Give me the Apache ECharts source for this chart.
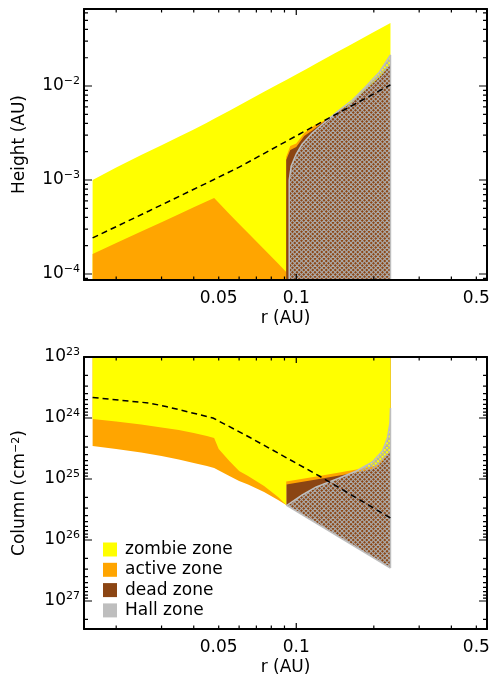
<!DOCTYPE html>
<html>
<head>
<meta charset="utf-8">
<title>Zones</title>
<script src="https://cdn.jsdelivr.net/npm/echarts@6/dist/echarts.min.js"></script>
<style>
  html, body { margin: 0; padding: 0; background: #fff; }
  #chart { width: 489px; height: 686px; }
</style>
</head>
<body>
<div id="chart"></div>
<script>
// axis ranges
const rMin = 0.015, rMax = 0.55;
const hMin = 8.63e-5, hMax = 0.066;
const nMin = 1e23, nMax = 2.88e27;

// tick values
const xMajorTicks = [0.1];
const xLabelValues = [0.05, 0.1, 0.5];
const xMinorTicks = [0.02, 0.03, 0.04, 0.05, 0.06, 0.07, 0.08, 0.09, 0.2, 0.3, 0.4, 0.5];
const hMajorTicks = [1e-4, 1e-3, 1e-2];
const hMinorTicks = [9e-5, 2e-4, 3e-4, 4e-4, 5e-4, 6e-4, 7e-4, 8e-4, 9e-4,
  2e-3, 3e-3, 4e-3, 5e-3, 6e-3, 7e-3, 8e-3, 9e-3, 2e-2, 3e-2, 4e-2, 5e-2, 6e-2];
const nMajorTicks = [1e23, 1e24, 1e25, 1e26, 1e27];
const nMinorTicks = [2e23, 3e23, 4e23, 5e23, 6e23, 7e23, 8e23, 9e23,
  2e24, 3e24, 4e24, 5e24, 6e24, 7e24, 8e24, 9e24,
  2e25, 3e25, 4e25, 5e25, 6e25, 7e25, 8e25, 9e25,
  2e26, 3e26, 4e26, 5e26, 6e26, 7e26, 8e26, 9e26, 2e27];

// top panel: height (AU) vs r (AU)
const zombieTopH = [[0.0162, 1.0e-3], [0.02, 1.36e-3], [0.025, 1.85e-3], [0.03, 2.34e-3], [0.035, 2.88e-3],
  [0.04, 3.44e-3], [0.045, 4.07e-3], [0.048, 4.48e-3], [0.055, 5.47e-3], [0.065, 7.0e-3], [0.075, 8.68e-3],
  [0.085, 1.045e-2], [0.0914, 1.16e-2], [0.1, 1.33e-2], [0.11, 1.53e-2], [0.12, 1.75e-2], [0.14, 2.2e-2],
  [0.16, 2.69e-2], [0.18, 3.2e-2], [0.2, 3.75e-2], [0.2321, 4.68e-2]];
const activeTopH = [[0.0162, 1.63e-4], [0.02, 2.13e-4], [0.025, 2.83e-4], [0.03, 3.56e-4], [0.035, 4.33e-4],
  [0.04, 5.13e-4], [0.045, 5.95e-4], [0.048, 6.44e-4], [0.05, 5.73e-4], [0.055, 4.36e-4], [0.06, 3.4e-4],
  [0.065, 2.73e-4], [0.075, 1.83e-4], [0.085, 1.29e-4], [0.0914, 1.05e-4]];
const activeSliverH = [[0.0914, 1.76e-3], [0.0948, 2.3e-3], [0.1, 2.45e-3], [0.1074, 3.16e-3],
  [0.1175, 3.8e-3], [0.1308, 4.4e-3], [0.147, 5.4e-3]];
const deadTopH = [[0.0914, 1.63e-3], [0.0948, 2.09e-3], [0.1, 2.25e-3], [0.1074, 2.94e-3], [0.1175, 3.49e-3],
  [0.1308, 4.35e-3], [0.147, 5.42e-3], [0.1652, 6.76e-3], [0.1839, 8.85e-3], [0.2104, 1.25e-2], [0.2321, 1.67e-2]];
const hallTopH = [[0.0939, 8.63e-5], [0.0939, 1.0e-3], [0.0956, 1.41e-3], [0.1, 1.89e-3], [0.1055, 2.42e-3],
  [0.1154, 3.16e-3], [0.1308, 4.25e-3], [0.147, 5.56e-3], [0.1652, 7.1e-3], [0.1839, 9.52e-3],
  [0.2104, 1.41e-2], [0.2321, 2.14e-2], [0.2321, 8.63e-5]];
const dashedH = [[0.0162, 2.42e-4], [0.0268, 4.68e-4], [0.0475, 1.0e-3], [0.06, 1.37e-3], [0.1027, 3.07e-3], [0.2321, 1.03e-2]];

// bottom panel: column (cm^-2) vs r (AU)
const columnBottomN = [[0.0162, 2.88e24], [0.02, 3.22e24], [0.025, 3.68e24], [0.03, 4.2e24], [0.035, 4.79e24],
  [0.04, 5.47e24], [0.045, 6.12e24], [0.048, 6.6e24], [0.055, 8.93e24], [0.06, 1.08e25], [0.065, 1.23e25],
  [0.075, 1.63e25], [0.085, 2.21e25], [0.0914, 2.67e25], [0.2321, 2.88e26]];
const activeTopN = [[0.0162, 1.04e24], [0.02, 1.14e24], [0.025, 1.28e24], [0.03, 1.43e24], [0.035, 1.57e24],
  [0.04, 1.76e24], [0.045, 1.97e24], [0.048, 2.13e24], [0.05, 3.22e24], [0.055, 5.07e24], [0.06, 7.39e24],
  [0.065, 8.93e24], [0.075, 1.3e25], [0.085, 1.97e25], [0.0914, 2.67e25]];
const activeSliverN = [[0.0914, 1.1e25], [0.1196, 9.1e24], [0.147, 7.82e24], [0.1758, 6.86e24], [0.2048, 6.01e24], [0.2321, 3.48e24]];
const deadTopN = [[0.0914, 1.23e25], [0.1196, 1.02e25], [0.147, 8.77e24], [0.1758, 7.67e24], [0.2048, 6.6e24], [0.2321, 3.61e24]];
const hallTopN = [[0.0923, 2.67e25], [0.1055, 1.83e25], [0.1196, 1.35e25], [0.147, 9.64e24], [0.1713, 7.39e24],
  [0.1975, 5.26e24], [0.2161, 3.48e24], [0.2259, 2.13e24], [0.231, 1.21e24], [0.2321, 6.85e23], [0.2321, 2.88e26]];
const dashedN = [[0.0162, 4.62e23], [0.0268, 5.68e23], [0.0312, 6.47e23], [0.0475, 1.0e24], [0.0656, 2.05e24],
  [0.1229, 8.93e24], [0.2321, 4.36e25]];

const FONT = 'DejaVu Sans';
const YELLOW = '#ffff00', ORANGE = '#ffa500', BROWN = '#8b4513', HALL = '#bebebe', HATCH = '#adadad';
const PLOT_W = 403, PLOT_H = [271, 272];

function makeHatch() {
  const s = 9, c = document.createElement('canvas');
  c.width = c.height = s;
  const g = c.getContext('2d');
  g.strokeStyle = HATCH;
  g.lineWidth = 1.1;
  for (let k = -s; k <= s; k += 4.5) {
    g.beginPath(); g.moveTo(k, 0); g.lineTo(k + s, s); g.stroke();
    g.beginPath(); g.moveTo(k + s, 0); g.lineTo(k, s); g.stroke();
  }
  return c;
}
const hatch = makeHatch();

const powLabel = v => '{b|10}{s|' + String(Math.round(Math.log10(v))).replace('-', '\u2212') + '}';
const supRich = {
  b: { fontSize: 17, fontFamily: FONT, color: '#000', lineHeight: 20 },
  s: { fontSize: 11, fontFamily: FONT, color: '#000', lineHeight: 12, verticalAlign: 'top' }
};
const frame = { show: true, onZero: false, lineStyle: { color: '#000', width: 2 } };

function xAxes(grid) {
  const base = { type: 'log', gridIndex: grid, min: rMin, max: rMax, z: 10, splitLine: { show: false }, axisLine: frame, axisTick: { show: false } };
  return [
    Object.assign({}, base, {
      position: 'bottom',
      axisLabel: { customValues: xLabelValues, margin: 10, color: '#000', fontFamily: FONT, fontSize: 17, formatter: v => String(v) },
      name: 'r (AU)', nameLocation: 'middle', nameGap: 30,
      nameTextStyle: { color: '#000', fontFamily: FONT, fontSize: 17 }
    }),
    Object.assign({}, base, { position: 'top', axisLabel: { show: false } })
  ];
}

function yAxes(grid, min, max, major, name, inverse) {
  const base = { type: 'log', gridIndex: grid, min: min, max: max, inverse: inverse, z: 10, splitLine: { show: false }, axisLine: frame, axisTick: { show: false } };
  return [
    Object.assign({}, base, {
      position: 'left',
      axisLabel: { customValues: major, margin: 4, formatter: powLabel, rich: supRich },
      name: name, nameLocation: 'middle', nameGap: 56,
      nameTextStyle: { color: '#000', fontFamily: FONT, fontSize: 17, rich: supRich }
    }),
    Object.assign({}, base, { position: 'right', axisLabel: { show: false } })
  ];
}

// inward tick marks on all four sides as short broken-line segments; a pixel length
// is turned into a factor along the log axis, and '-' breaks the line between ticks
function tickMarks(grid, yBottom, yTop, yMajor, yMinor) {
  const fx = px => Math.pow(rMax / rMin, px / PLOT_W);
  const fy = px => Math.pow(yBottom > yTop ? yBottom / yTop : yTop / yBottom, px / PLOT_H[grid]);
  const up = yBottom < yTop ? 1 : -1; // direction of larger values on screen
  const pts = [];
  const seg = (a, b) => { pts.push(a, b, [a[0], '-']); };
  yMajor.forEach(v => { seg([rMin, v], [rMin * fx(8), v]); seg([rMax, v], [rMax / fx(8), v]); });
  yMinor.forEach(v => { seg([rMin, v], [rMin * fx(4), v]); seg([rMax, v], [rMax / fx(4), v]); });
  const xTick = (v, len) => {
    seg([v, yBottom], [v, yBottom * Math.pow(fy(len), up)]);
    seg([v, yTop], [v, yTop / Math.pow(fy(len), up)]);
  };
  xMajorTicks.forEach(v => xTick(v, 6));
  xMinorTicks.forEach(v => xTick(v, 3.5));
  return {
    type: 'line', xAxisIndex: grid * 2, yAxisIndex: grid * 2, data: pts,
    showSymbol: false, symbol: 'none', connectNulls: false, silent: true, clip: false, z: 11,
    lineStyle: { color: '#000', width: 1.2 }
  };
}

function zone(name, grid, data, color, origin) {
  return {
    type: 'line', name: name, xAxisIndex: grid * 2, yAxisIndex: grid * 2, data: data,
    showSymbol: false, symbol: 'none', silent: true,
    lineStyle: { width: 0 }, areaStyle: { color: color, opacity: 1, origin: origin || 'start' }
  };
}

function hallZone(grid, data, origin) {
  return {
    type: 'line', name: 'Hall zone', xAxisIndex: grid * 2, yAxisIndex: grid * 2, data: data,
    showSymbol: false, symbol: 'none', silent: true,
    lineStyle: { color: HALL, width: 1.5 },
    areaStyle: { color: { image: hatch, repeat: 'repeat' }, opacity: 1, origin: origin }
  };
}

function dashed(grid, data) {
  return {
    type: 'line', xAxisIndex: grid * 2, yAxisIndex: grid * 2, data: data,
    showSymbol: false, symbol: 'none', silent: true, z: 5,
    lineStyle: { color: '#000', width: 1.5, type: [6, 4] }
  };
}

const diskFloor = columnBottomN.slice(13);

const chart = echarts.init(document.getElementById('chart'));
chart.setOption({
  animation: false,
  backgroundColor: '#fff',
  grid: [
    { left: 84, top: 9, width: PLOT_W, height: PLOT_H[0], containLabel: false, outerBoundsMode: 'none' },
    { left: 84, top: 357, width: PLOT_W, height: PLOT_H[1], containLabel: false, outerBoundsMode: 'none' }
  ],
  xAxis: xAxes(0).concat(xAxes(1)),
  yAxis: yAxes(0, hMin, hMax, hMajorTicks, 'Height (AU)', false)
    .concat(yAxes(1, nMin, nMax, nMajorTicks, 'Column (cm{s|\u22122})', true)),
  legend: {
    left: 103, top: 541, orient: 'vertical', padding: 0, itemGap: 3.3,
    itemWidth: 14, itemHeight: 14, icon: 'rect', selectedMode: false,
    itemStyle: { borderWidth: 0 }, lineStyle: { width: 0 },
    textStyle: { fontFamily: FONT, fontSize: 17, color: '#000', lineHeight: 14, padding: [0, 0, 0, 3] },
    data: [
      { name: 'zombie zone', itemStyle: { color: YELLOW } },
      { name: 'active zone', itemStyle: { color: ORANGE } },
      { name: 'dead zone', itemStyle: { color: BROWN } },
      { name: 'Hall zone', itemStyle: { color: HALL } }
    ]
  },
  series: [
    // top panel, each area filled down to the axis floor
    zone('zombie zone', 0, zombieTopH, YELLOW),
    zone('active zone', 0, activeTopH.concat(activeSliverH), ORANGE),
    zone('dead zone', 0, [[0.0914, hMin]].concat(deadTopH), BROWN),
    hallZone(0, hallTopH, 'start'),
    dashed(0, dashedH),
    tickMarks(0, hMin, hMax, hMajorTicks, hMinorTicks),
    // bottom panel (inverted axis), each area filled up to 1e23
    zone('dead zone', 1, diskFloor, BROWN),
    zone('active zone', 1, columnBottomN.slice(0, 14).concat(deadTopN), ORANGE),
    zone('zombie zone', 1, activeTopN.concat(activeSliverN), YELLOW),
    // hatch filled down to the axis end, then everything under the disk floor is blanked again
    hallZone(1, hallTopN, 'end'),
    {
      type: 'line', xAxisIndex: 2, yAxisIndex: 2, data: diskFloor.concat([[rMax, diskFloor[1][1]]]),
      showSymbol: false, symbol: 'none', silent: true,
      lineStyle: { width: 0 }, areaStyle: { color: '#fff', opacity: 1, origin: 'end' }
    },
    {
      type: 'line', xAxisIndex: 2, yAxisIndex: 2, data: diskFloor,
      showSymbol: false, symbol: 'none', silent: true, lineStyle: { color: HALL, width: 1.5 }
    },
    dashed(1, dashedN),
    tickMarks(1, nMax, nMin, nMajorTicks, nMinorTicks)
  ]
});
</script>
</body>
</html>
